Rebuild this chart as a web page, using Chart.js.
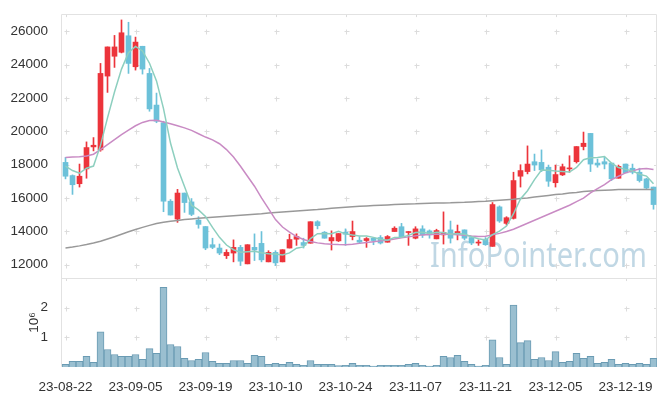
<!DOCTYPE html>
<html>
<head>
<meta charset="utf-8">
<script src="https://cdn.jsdelivr.net/npm/chart.js@4.4.1/dist/chart.umd.min.js"></script>
<style>
  html, body { margin: 0; padding: 0; background: #fff; }
</style>
</head>
<body>
<canvas id="myChart" width="665" height="396"></canvas>
<script>
// 날짜 (거래일)
const dates = [
  "23-08-22","23-08-23","23-08-24","23-08-25","23-08-28","23-08-29","23-08-30","23-08-31",
  "23-09-01","23-09-04","23-09-05","23-09-06","23-09-07","23-09-08","23-09-11","23-09-12",
  "23-09-13","23-09-14","23-09-15","23-09-18","23-09-19","23-09-20","23-09-21","23-09-22",
  "23-09-25","23-09-26","23-09-27","23-10-04","23-10-05","23-10-06","23-10-10","23-10-11",
  "23-10-12","23-10-13","23-10-16","23-10-17","23-10-18","23-10-19","23-10-20","23-10-23",
  "23-10-24","23-10-25","23-10-26","23-10-27","23-10-30","23-10-31","23-11-01","23-11-02",
  "23-11-03","23-11-06","23-11-07","23-11-08","23-11-09","23-11-10","23-11-13","23-11-14",
  "23-11-15","23-11-16","23-11-17","23-11-20","23-11-21","23-11-22","23-11-23","23-11-24",
  "23-11-27","23-11-28","23-11-29","23-11-30","23-12-01","23-12-04","23-12-05","23-12-06",
  "23-12-07","23-12-08","23-12-11","23-12-12","23-12-13","23-12-14","23-12-15","23-12-18",
  "23-12-19","23-12-20","23-12-21","23-12-22","23-12-26"
];

// 시가 / 고가 / 저가 / 종가
const opens = [
  18130,17340,16850,17740,19060,18880,23310,24500,24740,25730,23870,25100,23470,21570,20510,15800,
  14730,16290,15760,14670,14280,13190,12990,12530,12690,13030,12040,13030,13270,12160,12730,12160,
  12990,13520,13320,13280,14570,13940,13420,13420,13940,13680,13460,13440,13580,13620,13340,13980,
  14270,13920,13580,14140,14020,13540,13780,14080,13820,14080,13620,13290,13520,13090,15460,14470,
  14770,17300,17580,18170,18130,17840,16910,17380,17740,18170,19080,19870,18090,18170,18090,17180,
  18030,17780,17540,17140,16650
];
const highs = [
  18430,17380,18030,19360,19620,24070,25060,25750,26680,26540,25650,25100,23770,22290,20600,15900,
  16510,16290,15960,14870,14280,13580,13230,12890,13480,13150,13190,13840,13980,12830,12830,12890,
  13820,13840,13580,14570,14630,13980,14020,13860,14140,14610,13680,13620,13620,13740,13740,14270,
  14470,13980,14270,14330,14080,14120,15160,14610,14370,14080,13620,13480,13620,15720,15520,14870,
  17540,17990,19120,18630,18880,17970,17970,18030,18530,19080,19950,19870,18330,18430,18090,17970,
  18030,18030,17780,17180,16650
];
const lows = [
  17140,16210,16650,17180,18820,18800,22330,23830,24700,23470,23670,23430,21200,20510,15170,14970,
  14530,15130,14930,14180,12890,12950,12590,12360,12160,11940,12040,12240,12160,12160,11940,12160,
  12990,13150,12990,13280,14140,13580,12870,13380,13150,13480,13280,13030,13190,13230,13340,13980,
  13620,13150,13540,13620,13580,13540,13230,13290,13480,13480,13190,13150,13150,13090,14530,14370,
  14730,16650,17440,17640,17580,16690,16650,17340,17540,18090,18880,17580,17840,17740,17040,17180,
  17500,17440,16950,16510,15320
];
const closes = [
  17300,16790,17300,19020,19160,23470,25060,25060,25910,24070,25350,23730,21340,20600,15800,14970,
  16290,15720,15010,14410,12990,13030,12690,12730,13030,12200,13190,12870,12280,12730,12100,12890,
  13500,13680,13150,14570,14330,13580,13620,13860,13820,13980,13340,13560,13440,13290,13680,14180,
  13620,13980,14140,13780,13780,14040,13920,13580,13980,13580,13290,13320,13190,15600,14610,14810,
  17040,17640,18030,17970,17680,17000,17400,17870,17800,19080,19280,18030,17970,18030,17140,17890,
  17500,17540,17040,16590,15600
];

// 이동평균선 (5, 20, 120일)
const ma5 = [
  17900,17640,17480,17780,17910,19150,20800,22350,23730,24710,25090,24820,24080,23020,21360,19290,
  17800,16680,15560,15280,14880,14230,13630,13170,12890,12740,12770,12800,12710,12650,12630,12570,
  12700,12980,13060,13560,13850,13860,13850,13990,13840,13770,13720,13710,13630,13520,13460,13630,
  13640,13750,13920,13940,13860,13940,13930,13820,13860,13820,13670,13550,13470,13800,14000,14310,
  15050,15940,16430,17100,17670,17660,17620,17590,17550,17830,18290,18410,18430,18480,18090,17820,
  17710,17620,17420,17310,16850
];
const ma20 = [
  18430,18450,18470,18520,18620,18900,19200,19500,19800,20070,20330,20530,20650,20660,20560,20450,
  20330,20200,20050,19850,19650,19480,19250,18900,18450,17900,17300,16700,16000,15350,14700,14250,
  13950,13680,13500,13380,13300,13250,13220,13200,13190,13220,13270,13320,13370,13420,13460,13530,
  13600,13660,13720,13780,13810,13820,13820,13820,13790,13760,13720,13690,13700,13780,13870,13980,
  14120,14300,14480,14660,14840,15020,15200,15380,15560,15780,15980,16300,16550,16800,17100,17300,
  17500,17620,17730,17770,17700
];
const ma120 = [
  12990,13050,13120,13200,13290,13400,13530,13670,13820,13970,14100,14230,14350,14460,14540,14600,
  14650,14700,14740,14780,14810,14840,14870,14900,14930,14960,14990,15020,15050,15090,15120,15150,
  15180,15210,15240,15270,15300,15340,15380,15410,15440,15470,15500,15520,15540,15560,15580,15600,
  15620,15640,15650,15670,15680,15690,15700,15710,15730,15740,15760,15780,15800,15830,15860,15890,
  15920,15960,16000,16050,16100,16150,16200,16240,16290,16330,16380,16410,16440,16460,16480,16500,
  16510,16510,16510,16510,16500
];

// 거래량
const volumes = [
  90000,190000,190000,360000,160000,1190000,590000,420000,360000,360000,420000,260000,620000,460000,2690000,760000,
  690000,290000,220000,260000,490000,190000,120000,120000,220000,220000,120000,390000,360000,90000,120000,90000,
  160000,90000,60000,220000,90000,90000,90000,50000,60000,120000,60000,60000,30000,60000,60000,60000,
  60000,90000,120000,60000,30000,60000,360000,320000,390000,190000,90000,30000,60000,920000,320000,90000,
  2090000,820000,890000,260000,320000,220000,520000,160000,190000,460000,290000,360000,120000,160000,260000,90000,
  120000,90000,120000,90000,290000
];

// 눈금
const priceTicks = [12000, 14000, 16000, 18000, 20000, 22000, 24000, 26000];
const volumeTicks = [1000000, 2000000];
const labelStep = 10;

const UP = "#ec343b";
const DOWN = "#6cc1d9";
const candleColors = closes.map((c, i) => (c >= opens[i] ? UP : DOWN));

// 그리드 (+ 표시), 테두리, 워터마크
const framePlugin = {
  id: "frame",
  beforeDatasetsDraw(chart) {
    const { ctx, chartArea, scales } = chart;
    const x = scales.x, y = scales.y, yv = scales.yv;
    ctx.save();

    // 워터마크
    ctx.font = "34px 'Noto Sans'";
    ctx.fillStyle = "rgba(150,188,210,0.6)";
    ctx.textBaseline = "alphabetic";
    const text = "InfoPointer.com";
    const w = ctx.measureText(text).width;
    const sx = 217 / w;
    ctx.translate(430, 267);
    ctx.scale(sx, 1);
    ctx.fillText(text, 0, 0);
    ctx.restore();

    ctx.save();
    ctx.strokeStyle = "#dcdcdc";
    ctx.lineWidth = 1;
    const xs = [];
    for (let i = 0; i < dates.length; i += labelStep) {
      xs.push(Math.round(x.getPixelForValue(i)) + 0.5);
    }
    const ys = priceTicks.map((v) => Math.round(y.getPixelForValue(v)) + 0.5)
      .concat(volumeTicks.map((v) => Math.round(yv.getPixelForValue(v)) + 0.5));
    ctx.beginPath();
    xs.forEach((px) => {
      ys.forEach((py) => {
        ctx.moveTo(px - 2, py); ctx.lineTo(px + 3, py);
        ctx.moveTo(px, py - 2); ctx.lineTo(px, py + 3);
      });
      ctx.moveTo(px, chartArea.top); ctx.lineTo(px, chartArea.top + 3);
      ctx.moveTo(px, yv.top); ctx.lineTo(px, yv.top + 3);
    });
    ys.forEach((py) => {
      ctx.moveTo(chartArea.right - 3, py); ctx.lineTo(chartArea.right, py);
    });
    ctx.stroke();

    // 테두리
    ctx.strokeStyle = "#e2e2e2";
    ctx.beginPath();
    const l = Math.round(chartArea.left) - 0.5, r = Math.round(chartArea.right) - 0.5;
    const t = Math.round(chartArea.top) + 0.5, b = Math.round(chartArea.bottom) - 0.5;
    const m = Math.round(yv.top) + 0.5;
    ctx.rect(l, t, r - l, b - t);
    ctx.moveTo(l, m); ctx.lineTo(r, m);
    ctx.stroke();
    ctx.restore();
  },
};

Chart.defaults.font.family = "'Liberation Sans', Arial, sans-serif";
Chart.defaults.font.size = 13.5;
Chart.defaults.color = "#333";

const ctx = document.getElementById("myChart").getContext("2d");
const myChart = new Chart(ctx, {
  data: {
    labels: dates,
    datasets: [
      {
        type: "line", label: "MA5", data: ma5, yAxisID: "y",
        borderColor: "#8dcfbf", borderWidth: 1.5, pointRadius: 0, order: 0,
      },
      {
        type: "line", label: "MA20", data: ma20, yAxisID: "y",
        borderColor: "#c98bc4", borderWidth: 1.5, pointRadius: 0, order: 0,
      },
      {
        type: "line", label: "MA120", data: ma120, yAxisID: "y",
        borderColor: "#999999", borderWidth: 1.5, pointRadius: 0, order: 0,
      },
      {
        type: "bar", label: "body", yAxisID: "y",
        data: opens.map((o, i) => [o, closes[i]]),
        backgroundColor: candleColors, barThickness: 5, minBarLength: 1,
        grouped: false, order: 1,
      },
      {
        type: "bar", label: "wick", yAxisID: "y",
        data: lows.map((lo, i) => [lo, highs[i]]),
        backgroundColor: candleColors, barThickness: 1,
        grouped: false, order: 2,
      },
      {
        type: "bar", label: "volume", yAxisID: "yv",
        data: volumes,
        backgroundColor: "#9abfd0", borderColor: "#6a9bb3", borderWidth: 1,
        barPercentage: 1, categoryPercentage: 1, grouped: false, order: 3,
      },
    ],
  },
  options: {
    responsive: false,
    animation: false,
    layout: { padding: { top: 10, right: 8, left: 0, bottom: 0 } },
    plugins: {
      legend: { display: false },
      tooltip: { enabled: false },
    },
    scales: {
      x: {
        type: "category",
        grid: { display: false },
        border: { display: false },
        ticks: {
          autoSkip: false,
          maxRotation: 0,
          padding: 4,
          callback: (v, i) => (i % labelStep === 0 ? dates[i] : ""),
        },
        afterFit: (s) => { s.height = 29; },
      },
      // 스택은 나중에 정의한 축이 위로 간다
      yv: {
        type: "linear",
        position: "left",
        stack: "panel",
        stackWeight: 90,
        min: 0,
        max: 3000000,
        grid: { display: false },
        border: { display: false },
        afterBuildTicks: (s) => { s.ticks = volumeTicks.map((v) => ({ value: v })); },
        ticks: { padding: 6, callback: (v) => String(v / 1000000) },
        title: { display: true, text: "10⁶", padding: { top: 26, bottom: 0 } },
        afterFit: (s) => { s.width = 62; },
      },
      y: {
        type: "linear",
        position: "left",
        stack: "panel",
        stackWeight: 267,
        min: 11190,
        max: 27030,
        grid: { display: false },
        border: { display: false },
        afterBuildTicks: (s) => { s.ticks = priceTicks.map((v) => ({ value: v })); },
        ticks: { padding: 6, callback: (v) => String(v) },
        afterFit: (s) => { s.width = 62; },
      },
    },
  },
  plugins: [framePlugin],
});
</script>
</body>
</html>
